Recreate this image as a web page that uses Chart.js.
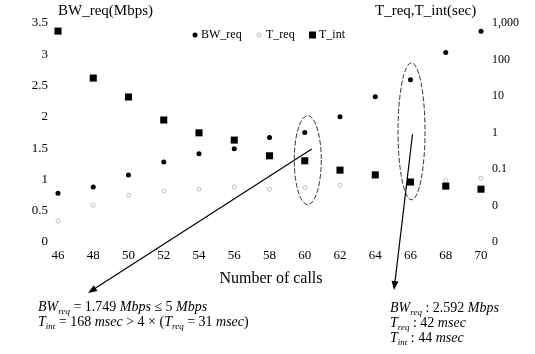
<!DOCTYPE html>
<html>
<head>
<meta charset="utf-8">
<title>BW_req and T_req, T_int vs number of calls</title>
<script src="https://cdn.jsdelivr.net/npm/chart.js@4.4.0/dist/chart.umd.min.js"></script>
<style>
  html, body { margin: 0; padding: 0; background: #fff; }
  #wrap { position: relative; width: 535px; height: 354px; }
  #chart { position: absolute; left: 0; top: 0; }
  .note {
    position: absolute;
    font-family: 'Liberation Serif', 'Times New Roman', serif;
    font-size: 14px;
    line-height: 15px;
    color: #000;
    white-space: nowrap;
  }
  .note sub { font-size: 9px; line-height: 0; vertical-align: -3px; }
</style>
</head>
<body>
<div id="wrap">
  <canvas id="chart" width="535" height="354"></canvas>
  <div class="note" style="left:38px; top:299px">
    <i>BW<sub>req</sub></i> = 1.749 <i>Mbps</i> &le; 5 <i>Mbps</i><br>
    <i>T<sub>int</sub></i> = 168 <i>msec</i> &gt; 4 &times; (<i>T<sub>req</sub></i> = 31 <i>msec</i>)
  </div>
  <div class="note" style="left:390px; top:300px">
    <i>BW<sub>req</sub></i> : 2.592 <i>Mbps</i><br>
    <i>T<sub>req</sub></i> : 42 <i>msec</i><br>
    <i>T<sub>int</sub></i> : 44 <i>msec</i>
  </div>
</div>
<script>
// number of calls on the x axis
const calls = [46, 48, 50, 52, 54, 56, 58, 60, 62, 64, 66, 68, 70];
// required bandwidth, Mbps (left axis)
const bwReq = [0.78, 0.88, 1.07, 1.28, 1.41, 1.49, 1.67, 1.749, 2.0, 2.32, 2.592, 3.03, 3.37];
// T_req and T_int, seconds (right log axis)
const tReq = [0.0038, 0.0103, 0.019, 0.025, 0.028, 0.032, 0.028, 0.031, 0.036, 0.065, 0.042, 0.049, 0.056];
const tInt = [600, 31, 9.4, 2.2, 0.98, 0.62, 0.23, 0.168, 0.093, 0.069, 0.044, 0.034, 0.028];

const secTicks = [0.001, 0.01, 0.1, 1, 10, 100, 1000];
const secTickLabels = ['0', '0', '0.1', '1', '10', '100', '1,000'];

// which points get circled and pointed at
const callouts = [
  { at: 60, dx: 3, tipX: 88, tipY: 293, startDx: 4, startDy: -11 },
  { at: 66, dx: 1, tipX: 394, tipY: 290, startDx: 1, startDy: 3 },
];

const FONT = "'Liberation Serif', 'Times New Roman', serif";
Chart.defaults.font.family = FONT;
Chart.defaults.color = '#000';

const pts = (ys) => calls.map((c, i) => ({ x: c, y: ys[i] }));

function arrow(ctx, x1, y1, x2, y2) {
  const a = Math.atan2(y2 - y1, x2 - x1);
  const len = 9, w = 3.5;
  ctx.beginPath();
  ctx.moveTo(x1, y1);
  ctx.lineTo(x2 - Math.cos(a) * len * 0.8, y2 - Math.sin(a) * len * 0.8);
  ctx.stroke();
  ctx.beginPath();
  ctx.moveTo(x2, y2);
  ctx.lineTo(x2 - Math.cos(a) * len + Math.sin(a) * w, y2 - Math.sin(a) * len - Math.cos(a) * w);
  ctx.lineTo(x2 - Math.cos(a) * len - Math.sin(a) * w, y2 - Math.sin(a) * len + Math.cos(a) * w);
  ctx.closePath();
  ctx.fill();
}

const overlay = {
  id: 'overlay',
  afterDraw(chart) {
    const { ctx } = chart;
    const xs = chart.scales.x, yb = chart.scales.yBw, ys = chart.scales.ySec;
    ctx.save();
    ctx.fillStyle = '#000';
    ctx.strokeStyle = '#000';

    // axis titles sit above the plot, horizontal
    ctx.font = '15px ' + FONT;
    ctx.textBaseline = 'middle';
    ctx.textAlign = 'left';
    ctx.fillText('BW_req(Mbps)', 58, 11);
    ctx.fillText('T_req,T_int(sec)', 375, 11);

    // legend inside the plot area
    ctx.font = '12px ' + FONT;
    const ly = 35;
    ctx.beginPath(); ctx.arc(195, ly, 2.5, 0, Math.PI * 2); ctx.fill();
    ctx.fillText('BW_req', 201, ly);
    ctx.strokeStyle = '#bbb';
    ctx.beginPath(); ctx.arc(259, ly, 2, 0, Math.PI * 2); ctx.stroke();
    ctx.fillText('T_req', 266, ly);
    ctx.fillRect(309, ly - 3.5, 7, 7);
    ctx.fillText('T_int', 319, ly);

    // dashed ellipses and arrows to the notes
    callouts.forEach(c => {
      const i = calls.indexOf(c.at);
      const cx = xs.getPixelForValue(c.at) + c.dx;
      const top = yb.getPixelForValue(bwReq[i]);
      const bot = ys.getPixelForValue(tReq[i]);
      const cy = (top + bot) / 2;
      const ry = (bot - top) / 2 + 17;
      ctx.strokeStyle = '#000';
      ctx.lineWidth = 0.8;
      ctx.setLineDash([5, 2]);
      ctx.beginPath();
      ctx.ellipse(cx, cy, 13.5, ry, 0, 0, Math.PI * 2);
      ctx.stroke();
      ctx.setLineDash([]);
      ctx.lineWidth = 1.2;
      arrow(ctx, cx + c.startDx, cy + c.startDy, c.tipX, c.tipY);
    });
    ctx.restore();
  }
};

const noGrid = { display: false, drawTicks: false };

new Chart(document.getElementById('chart'), {
  type: 'scatter',
  data: {
    datasets: [
      {
        label: 'BW_req', data: pts(bwReq), yAxisID: 'yBw', order: 0,
        pointStyle: 'circle', pointRadius: 2.5, pointHoverRadius: 2.5,
        backgroundColor: '#000', borderColor: '#000', borderWidth: 0,
      },
      {
        label: 'T_req', data: pts(tReq), yAxisID: 'ySec', order: 2,
        pointStyle: 'circle', pointRadius: 2, pointHoverRadius: 2,
        backgroundColor: 'rgba(0,0,0,0)', borderColor: '#bdbdbd', borderWidth: 1,
      },
      {
        label: 'T_int', data: pts(tInt), yAxisID: 'ySec', order: 1,
        pointStyle: 'rect', pointRadius: 5, pointHoverRadius: 5,
        backgroundColor: '#000', borderColor: '#000', borderWidth: 0,
      },
    ]
  },
  options: {
    responsive: false,
    animation: false,
    layout: { padding: { top: 23, bottom: 62, left: 0, right: 0 } },
    plugins: { legend: { display: false }, tooltip: { enabled: false } },
    scales: {
      x: {
        type: 'linear', min: 45.66, max: 70.51,
        afterBuildTicks: s => { s.ticks = calls.map(v => ({ value: v })); },
        afterFit: s => { s.height = 50; },
        grid: noGrid, border: { display: false },
        ticks: { font: { size: 13 }, padding: 6, autoSkip: false, maxRotation: 0 },
        title: { display: true, text: 'Number of calls', font: { size: 16 }, padding: { top: 4, bottom: 4 } },
      },
      yBw: {
        type: 'linear', position: 'left', min: 0, max: 3.5,
        afterFit: s => { s.width = 52; },
        grid: noGrid, border: { display: false },
        ticks: { stepSize: 0.5, font: { size: 13 }, padding: 4, callback: v => String(v) },
      },
      ySec: {
        type: 'logarithmic', position: 'right', min: 0.001, max: 1000,
        afterBuildTicks: s => { s.ticks = secTicks.map(v => ({ value: v, major: true })); },
        afterFit: s => { s.width = 45; },
        grid: noGrid, border: { display: false },
        ticks: { font: { size: 12 }, padding: 2, autoSkip: false, callback: (v, i) => secTickLabels[i] },
      },
    }
  },
  plugins: [overlay]
});
</script>
</body>
</html>
